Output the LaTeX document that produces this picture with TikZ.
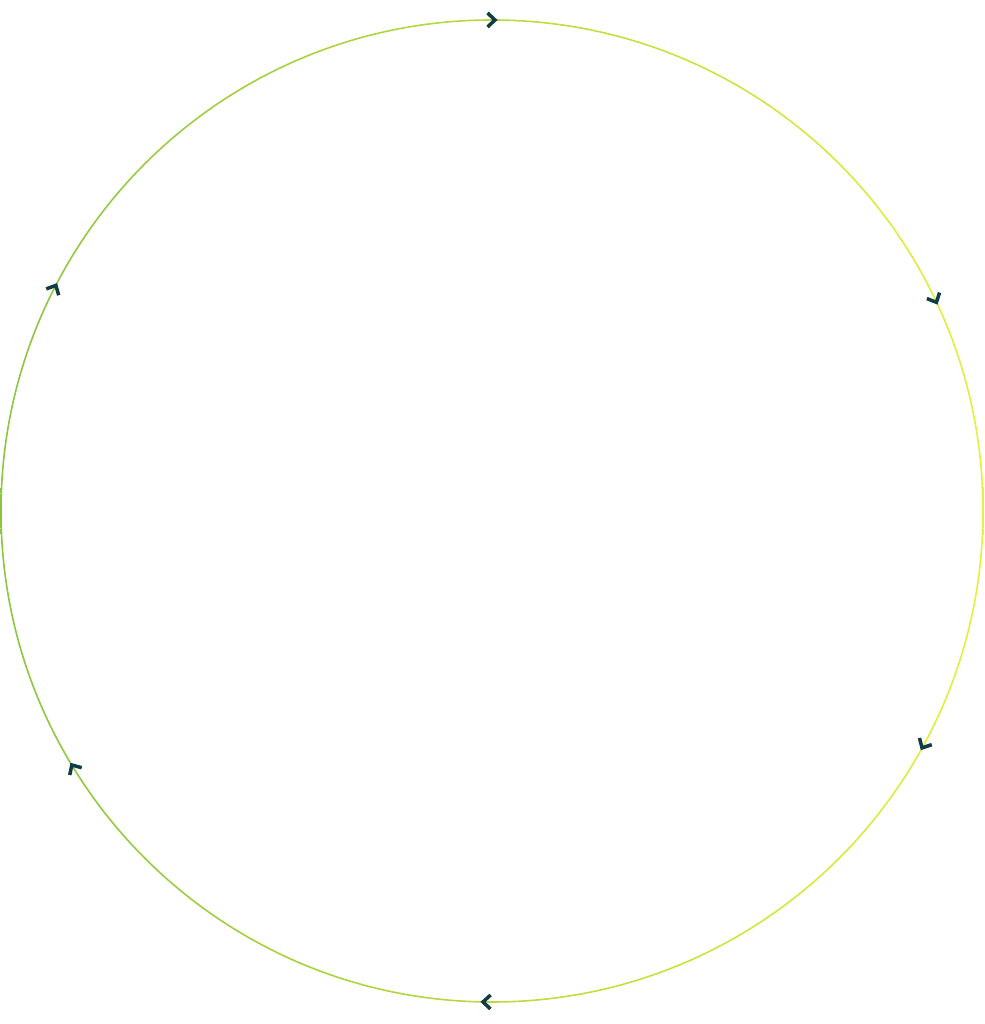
\documentclass[tikz,border=0pt]{standalone}
\usepackage{xcolor}
\usetikzlibrary{calc}
\definecolor{ringgreen}{HTML}{8CC63F}
\definecolor{ringyellow}{HTML}{E6EF3E}
\definecolor{tipteal}{HTML}{0F3C47}

\begin{document}
\begin{tikzpicture}[x=1pt,y=1pt,
      chevron/.style={draw=tipteal,line width=3.5pt,miter limit=10,line cap=butt}]
   \useasboundingbox (0,0) rectangle (984,1024);
   \coordinate (hub) at (492,513);

   % the ring, shaded from left to right
   \shade[left color=ringgreen,right color=ringyellow,even odd rule]
      (hub) circle (491.8) (hub) circle (490.2);

   % clockwise chevrons
   \foreach \a in {90,25.5,-28.5,-90.7,211.5,153}
      \draw[chevron,shift={($(hub)+(\a:491)$)},rotate=\a-90]
         (-4.5,7) -- (3,0) -- (-4.5,-7);
\end{tikzpicture}
\end{document}
